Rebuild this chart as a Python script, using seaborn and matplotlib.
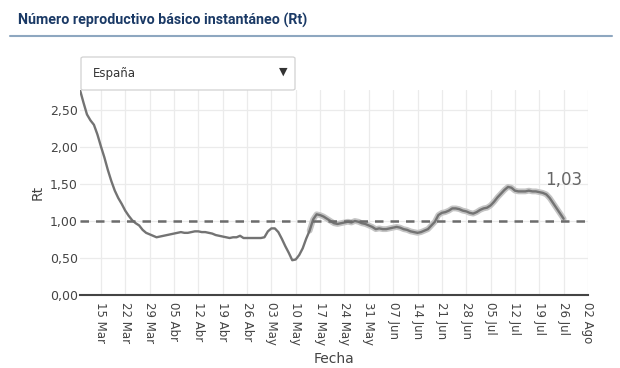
import matplotlib

matplotlib.use("Agg")
import matplotlib.pyplot as plt
import pandas as pd
import seaborn as sns
from matplotlib.lines import Line2D
from matplotlib.patches import FancyBboxPatch

# Rt estimado, diario desde el 9 de marzo hasta el 26 de julio de 2020
start_date = "2020-03-09"
rt_values = [
    2.77, 2.60, 2.44, 2.36, 2.30, 2.17, 2.01, 1.86, 1.69, 1.54,   # 9-18 Mar
    1.41, 1.31, 1.23, 1.14, 1.07, 1.01, 0.97, 0.94, 0.88, 0.84,   # 19-28 Mar
    0.82, 0.80, 0.78, 0.79, 0.80, 0.81, 0.82, 0.83, 0.84, 0.85,   # 29 Mar-7 Abr
    0.84, 0.84, 0.85, 0.86, 0.86, 0.85, 0.85, 0.84, 0.83, 0.81,   # 8-17 Abr
    0.80, 0.79, 0.78, 0.77, 0.78, 0.78, 0.80, 0.77, 0.77, 0.77,   # 18-27 Abr
    0.77, 0.77, 0.77, 0.78, 0.86, 0.90, 0.90, 0.85, 0.76, 0.66,   # 28 Abr-7 May
    0.57, 0.47, 0.48, 0.54, 0.63, 0.76, 0.87, 1.02, 1.09, 1.08,   # 8-17 May
    1.06, 1.03, 1.00, 0.97, 0.96, 0.97, 0.98, 0.99, 0.98, 1.00,   # 18-27 May
    0.99, 0.97, 0.96, 0.94, 0.92, 0.89, 0.90, 0.89, 0.89, 0.90,   # 28 May-6 Jun
    0.91, 0.92, 0.91, 0.89, 0.88, 0.86, 0.85, 0.84, 0.85, 0.87,   # 7-16 Jun
    0.89, 0.94, 0.99, 1.08, 1.11, 1.12, 1.14, 1.17, 1.17, 1.16,   # 17-26 Jun
    1.14, 1.13, 1.11, 1.10, 1.12, 1.15, 1.17, 1.18, 1.21, 1.26,   # 27 Jun-6 Jul
    1.32, 1.37, 1.42, 1.46, 1.45, 1.41, 1.40, 1.40, 1.40, 1.41,   # 7-16 Jul
    1.40, 1.40, 1.39, 1.38, 1.36, 1.31, 1.24, 1.17, 1.10, 1.03,   # 17-26 Jul
]
band_start = "2020-05-14"  # desde aquí se ve el intervalo de confianza

y_ticks = [0.0, 0.5, 1.0, 1.5, 2.0, 2.5]
x_ticks_start = "2020-03-15"
x_ticks_end = "2020-08-02"
meses = {3: "Mar", 4: "Abr", 5: "May", 6: "Jun", 7: "Jul", 8: "Ago"}

df = pd.DataFrame(
    {
        "Fecha": pd.date_range(start_date, periods=len(rt_values), freq="D"),
        "Rt": rt_values,
    }
)

sns.set_style("white")
plt.rcParams["font.family"] = ["DejaVu Sans"]

fig = plt.figure(figsize=(6.2, 3.68), dpi=100)
ax = fig.add_axes([80 / 620, 1 - 295 / 368, 508 / 620, 205 / 368])

# banda clara bajo la línea principal
band_df = df[df["Fecha"] >= band_start]
sns.lineplot(data=band_df, x="Fecha", y="Rt", ax=ax, color="#c4c4c4", lw=4.2)
sns.lineplot(data=df, x="Fecha", y="Rt", ax=ax, color="#737373", lw=1.7)

ax.axhline(1.0, color="#6c6c6c", lw=1.8, dashes=(3.4, 2.8), zorder=3)

ax.set_xlim(df["Fecha"].iloc[0], pd.Timestamp(x_ticks_end))
ax.set_ylim(0, 2.77)

xt = pd.date_range(x_ticks_start, x_ticks_end, freq="7D")
ax.set_xticks(xt)
ax.set_xticklabels(
    [f"{d.day:02d} {meses[d.month]}" for d in xt],
    rotation=-90,
    fontsize=8.5,
    color="#444444",
)
ax.set_yticks(y_ticks)
ax.set_yticklabels(
    [f"{v:.2f}".replace(".", ",") for v in y_ticks], fontsize=9, color="#444444"
)
ax.tick_params(axis="y", length=0, pad=1.5)
ax.tick_params(axis="x", length=0, pad=5)

ax.grid(True, color="#ebebeb", lw=0.9)
for side in ["top", "right", "left"]:
    ax.spines[side].set_visible(False)
ax.spines["bottom"].set_color("#444444")
ax.spines["bottom"].set_linewidth(1.5)

ax.set_xlabel("Fecha", fontsize=10, color="#444444", labelpad=5)
ax.set_ylabel("Rt", fontsize=10, color="#444444", labelpad=4)

# etiqueta del último valor
last = df.iloc[-1]
ax.annotate(
    f"{last['Rt']:.2f}".replace(".", ","),
    xy=(last["Fecha"], last["Rt"]),
    xytext=(0, 28),
    textcoords="offset points",
    ha="center",
    va="center",
    fontsize=12,
    color="#666666",
)

# cabecera
fig.text(
    18 / 620,
    1 - 20 / 368,
    "Número reproductivo básico instantáneo (Rt)",
    fontsize=10.3,
    fontweight="bold",
    color="#1b3a66",
    family=["Roboto", "DejaVu Sans"],
    va="center",
    ha="left",
)
fig.add_artist(
    Line2D(
        [10 / 620, 612 / 620],
        [1 - 36 / 368, 1 - 36 / 368],
        transform=fig.transFigure,
        color="#8ea7c0",
        lw=1.5,
    )
)

# selector desplegable
fig.add_artist(
    FancyBboxPatch(
        (81 / 620, 1 - 90 / 368),
        214 / 620,
        33 / 368,
        boxstyle="round,pad=0,rounding_size=0.004",
        transform=fig.transFigure,
        facecolor="white",
        edgecolor="#d2d2d2",
        lw=0.9,
        zorder=5,
    )
)
fig.text(93 / 620, 1 - 73 / 368, "España", fontsize=8.5, color="#333333",
         va="center", ha="left", zorder=6)
fig.text(283 / 620, 1 - 72 / 368, "▼", fontsize=8, color="#333333",
         va="center", ha="center", zorder=6)

fig.savefig("out.png", dpi=100)
